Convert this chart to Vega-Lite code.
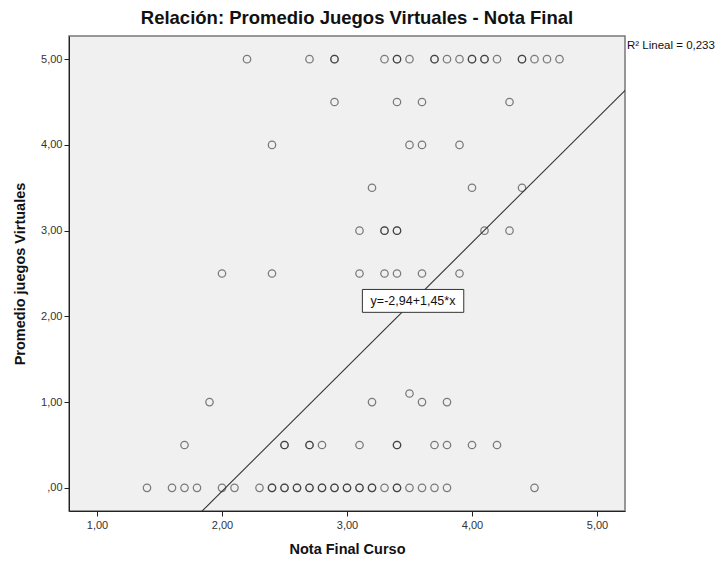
{
  "$schema": "https://vega.github.io/schema/vega-lite/v6.json",
  "autosize": "none",
  "width": 556,
  "height": 475,
  "padding": {"left": 69, "top": 36, "right": 100, "bottom": 54},
  "background": "white",
  "config": {
    "font": "Liberation Sans",
    "view": {"fill": "#F0F0F0", "stroke": "#777", "strokeWidth": 1.5},
    "axis": {
      "domainColor": "#222",
      "tickColor": "#222",
      "tickSize": 5,
      "grid": false,
      "labelFont": "Liberation Sans",
      "labelFontSize": 11,
      "labelColor": "#333",
      "titleFont": "Liberation Sans",
      "titleFontSize": 14.5,
      "titleFontWeight": "bold",
      "titleColor": "#111"
    }
  },
  "title": {
    "text": "Relación: Promedio Juegos Virtuales - Nota Final",
    "font": "Liberation Sans",
    "fontSize": 18.5,
    "fontWeight": "bold",
    "color": "#111",
    "offset": 9,
    "dx": 10
  },
  "datasets": {
    "alumnos": [
      {"nota": 2.2, "juegos": 5}, {"nota": 2.7, "juegos": 5}, {"nota": 2.9, "juegos": 5}, {"nota": 2.9, "juegos": 5},
      {"nota": 3.3, "juegos": 5}, {"nota": 3.4, "juegos": 5}, {"nota": 3.4, "juegos": 5}, {"nota": 3.5, "juegos": 5},
      {"nota": 3.7, "juegos": 5}, {"nota": 3.7, "juegos": 5}, {"nota": 3.8, "juegos": 5}, {"nota": 3.9, "juegos": 5},
      {"nota": 4.0, "juegos": 5}, {"nota": 4.0, "juegos": 5}, {"nota": 4.1, "juegos": 5}, {"nota": 4.1, "juegos": 5},
      {"nota": 4.2, "juegos": 5}, {"nota": 4.4, "juegos": 5}, {"nota": 4.4, "juegos": 5}, {"nota": 4.5, "juegos": 5},
      {"nota": 4.6, "juegos": 5}, {"nota": 4.7, "juegos": 5},
      {"nota": 2.9, "juegos": 4.5}, {"nota": 3.4, "juegos": 4.5}, {"nota": 3.6, "juegos": 4.5}, {"nota": 4.3, "juegos": 4.5},
      {"nota": 2.4, "juegos": 4}, {"nota": 3.5, "juegos": 4}, {"nota": 3.6, "juegos": 4}, {"nota": 3.9, "juegos": 4},
      {"nota": 3.2, "juegos": 3.5}, {"nota": 4.0, "juegos": 3.5}, {"nota": 4.4, "juegos": 3.5},
      {"nota": 3.1, "juegos": 3}, {"nota": 3.3, "juegos": 3}, {"nota": 3.3, "juegos": 3}, {"nota": 3.4, "juegos": 3},
      {"nota": 3.4, "juegos": 3}, {"nota": 4.1, "juegos": 3}, {"nota": 4.3, "juegos": 3},
      {"nota": 2.0, "juegos": 2.5}, {"nota": 2.4, "juegos": 2.5}, {"nota": 3.1, "juegos": 2.5}, {"nota": 3.3, "juegos": 2.5},
      {"nota": 3.4, "juegos": 2.5}, {"nota": 3.6, "juegos": 2.5}, {"nota": 3.9, "juegos": 2.5},
      {"nota": 3.5, "juegos": 1.1},
      {"nota": 1.9, "juegos": 1}, {"nota": 3.2, "juegos": 1}, {"nota": 3.6, "juegos": 1}, {"nota": 3.8, "juegos": 1},
      {"nota": 1.7, "juegos": 0.5}, {"nota": 2.5, "juegos": 0.5}, {"nota": 2.5, "juegos": 0.5}, {"nota": 2.7, "juegos": 0.5},
      {"nota": 2.7, "juegos": 0.5}, {"nota": 2.8, "juegos": 0.5}, {"nota": 3.1, "juegos": 0.5}, {"nota": 3.4, "juegos": 0.5},
      {"nota": 3.4, "juegos": 0.5}, {"nota": 3.7, "juegos": 0.5}, {"nota": 3.8, "juegos": 0.5}, {"nota": 4.0, "juegos": 0.5},
      {"nota": 4.2, "juegos": 0.5},
      {"nota": 1.4, "juegos": 0}, {"nota": 1.6, "juegos": 0}, {"nota": 1.7, "juegos": 0}, {"nota": 1.8, "juegos": 0},
      {"nota": 2.0, "juegos": 0}, {"nota": 2.1, "juegos": 0}, {"nota": 2.3, "juegos": 0}, {"nota": 2.4, "juegos": 0},
      {"nota": 2.4, "juegos": 0}, {"nota": 2.5, "juegos": 0}, {"nota": 2.5, "juegos": 0}, {"nota": 2.6, "juegos": 0},
      {"nota": 2.6, "juegos": 0}, {"nota": 2.7, "juegos": 0}, {"nota": 2.7, "juegos": 0}, {"nota": 2.8, "juegos": 0},
      {"nota": 2.8, "juegos": 0}, {"nota": 2.9, "juegos": 0}, {"nota": 2.9, "juegos": 0}, {"nota": 3.0, "juegos": 0},
      {"nota": 3.0, "juegos": 0}, {"nota": 3.1, "juegos": 0}, {"nota": 3.1, "juegos": 0}, {"nota": 3.2, "juegos": 0},
      {"nota": 3.2, "juegos": 0}, {"nota": 3.3, "juegos": 0}, {"nota": 3.4, "juegos": 0}, {"nota": 3.4, "juegos": 0},
      {"nota": 3.5, "juegos": 0}, {"nota": 3.6, "juegos": 0}, {"nota": 3.7, "juegos": 0}, {"nota": 3.8, "juegos": 0},
      {"nota": 4.5, "juegos": 0}
    ],
    "ajuste": [
      {"nota": 1.6, "juegos": -0.62},
      {"nota": 5.4, "juegos": 4.89}
    ]
  },
  "layer": [
    {
      "data": {"name": "alumnos"},
      "mark": {"type": "point", "shape": "circle", "filled": false, "size": 55, "stroke": "#111", "strokeOpacity": 0.75, "strokeWidth": 1.25},
      "encoding": {
        "x": {
          "field": "nota", "type": "quantitative",
          "scale": {"domain": [0.776, 5.224], "nice": false, "zero": false},
          "axis": {
            "title": "Nota Final Curso",
            "values": [1, 2, 3, 4, 5],
            "labelExpr": "datum.value == 0 ? ',00' : replace(format(datum.value, '.2f'), '.', ',')",
            "labelPadding": 3,
            "titlePadding": 12
          }
        },
        "y": {
          "field": "juegos", "type": "quantitative",
          "scale": {"domain": [-0.27, 5.27], "nice": false, "zero": false},
          "axis": {
            "title": "Promedio juegos Virtuales",
            "values": [0, 1, 2, 3, 4, 5],
            "labelExpr": "datum.value == 0 ? ',00' : replace(format(datum.value, '.2f'), '.', ',')",
            "labelPadding": 2,
            "titlePadding": 13
          }
        }
      }
    },
    {
      "data": {"name": "ajuste"},
      "mark": {"type": "line", "color": "#333", "strokeWidth": 1.1, "clip": true},
      "encoding": {
        "x": {"field": "nota", "type": "quantitative"},
        "y": {"field": "juegos", "type": "quantitative"}
      }
    },
    {
      "data": {"values": [{}]},
      "mark": {"type": "rect", "fill": "white", "stroke": "#333", "strokeWidth": 1},
      "encoding": {
        "x": {"datum": 3.123, "type": "quantitative"},
        "x2": {"datum": 3.934},
        "y": {"datum": 2.047, "type": "quantitative"},
        "y2": {"datum": 2.314}
      }
    },
    {
      "data": {"values": [{"texto": "y=-2,94+1,45*x"}]},
      "mark": {"type": "text", "fontSize": 12.5, "color": "#111", "align": "center", "baseline": "middle"},
      "encoding": {
        "x": {"datum": 3.528, "type": "quantitative"},
        "y": {"datum": 2.18, "type": "quantitative"},
        "text": {"field": "texto"}
      }
    },
    {
      "data": {"values": [{"texto": "R² Lineal = 0,233"}]},
      "mark": {"type": "text", "fontSize": 11.5, "color": "#111", "align": "left", "baseline": "middle", "clip": false, "dx": 2},
      "encoding": {
        "x": {"datum": 5.224, "type": "quantitative"},
        "y": {"datum": 5.155, "type": "quantitative"},
        "text": {"field": "texto"}
      }
    }
  ]
}
